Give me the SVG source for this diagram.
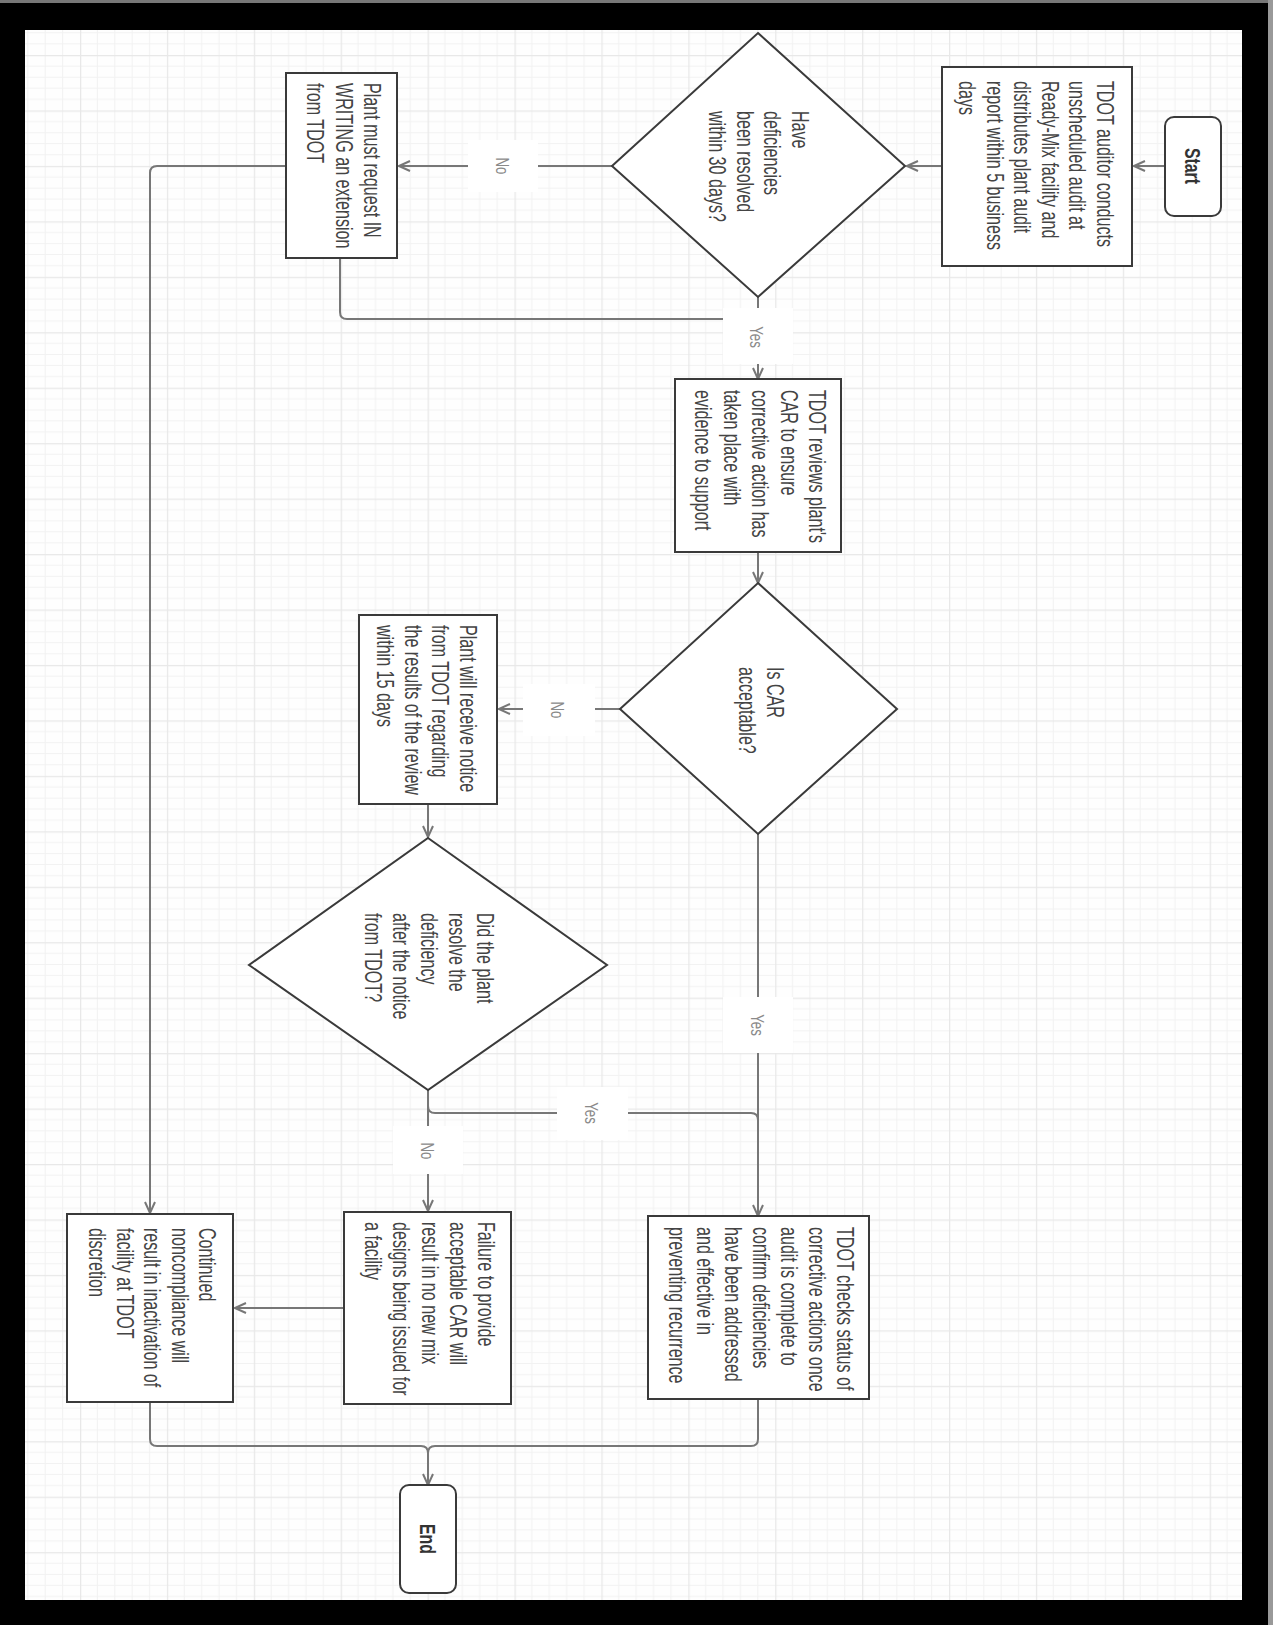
<svg xmlns="http://www.w3.org/2000/svg" width="1273" height="1625" viewBox="0 0 1273 1625">
<style>
.box{fill:#fff;stroke:#3a3a3a;stroke-width:2}
.t{font-family:"Liberation Sans",Arial,sans-serif;font-size:23px;fill:#444}
.b{font-family:"Liberation Sans",Arial,sans-serif;font-size:22px;font-weight:bold;fill:#333}
.lbl{font-family:"Liberation Sans",Arial,sans-serif;font-size:19px;fill:#8a8a8a}
.lb{fill:#fff}
.c{fill:none;stroke:#777;stroke-width:2}
</style>
<defs>
<pattern id="grid" patternUnits="userSpaceOnUse" x="80" y="55" width="86.9" height="55.45">
<rect width="86.9" height="55.45" fill="#fefefe"/>
<path d="M17.38,0V55.45M34.76,0V55.45M52.14,0V55.45M69.52,0V55.45M0,11.09H86.9M0,22.18H86.9M0,33.27H86.9M0,44.36H86.9" stroke="#f2f2f2" stroke-width="1" fill="none"/>
<path d="M0.5,0V55.45M0,0.5H86.9" stroke="#e8e8e8" stroke-width="1.5" fill="none"/>
</pattern>
<marker id="arr" markerUnits="userSpaceOnUse" markerWidth="14" markerHeight="12" refX="12" refY="6" orient="auto">
<path d="M1,1 L12,6 L1,11" fill="none" stroke="#777" stroke-width="2"/>
</marker>
</defs>
<rect x="0" y="0" width="1273" height="1625" fill="#000"/>
<rect x="0" y="0" width="1273" height="3" fill="#777"/>
<rect x="1268" y="0" width="5" height="1625" fill="#999"/>
<rect x="25" y="30" width="1217" height="1570" fill="url(#grid)"/>

<g id="connectors">
<path class="c" d="M1165,166H1134" marker-end="url(#arr)"/>
<path class="c" d="M942,166H907" marker-end="url(#arr)"/>
<path class="c" d="M612,166H399" marker-end="url(#arr)"/>
<path class="c" d="M758,297V379" marker-end="url(#arr)"/>
<path class="c" d="M340,258V312Q340,319 347,319H758"/>
<path class="c" d="M758,552V583" marker-end="url(#arr)"/>
<path class="c" d="M620,709H499" marker-end="url(#arr)"/>
<path class="c" d="M758,834V1216" marker-end="url(#arr)"/>
<path class="c" d="M428,804V837" marker-end="url(#arr)"/>
<path class="c" d="M428,1090V1106Q428,1113 435,1113H751Q758,1113 758,1120"/>
<path class="c" d="M428,1090V1211" marker-end="url(#arr)"/>
<path class="c" d="M344,1308H235" marker-end="url(#arr)"/>
<path class="c" d="M286,166H157Q150,166 150,173V1213" marker-end="url(#arr)"/>
<path class="c" d="M150,1402V1439Q150,1446 157,1446H421Q428,1446 428,1453V1485" marker-end="url(#arr)"/>
<path class="c" d="M758,1399V1439Q758,1446 751,1446H435Q428,1446 428,1453"/>
<g id="label-no1"><rect class="lb" x="468" y="140" width="70" height="52"/><text class="lbl" text-anchor="middle" transform="translate(496,166) rotate(90) scale(0.7,1)">No</text></g>
<g id="label-yes1"><rect class="lb" x="723" y="308" width="70" height="56"/><text class="lbl" text-anchor="middle" transform="translate(750,337) rotate(90) scale(0.7,1)">Yes</text></g>
<g id="label-no2"><rect class="lb" x="523" y="684" width="72" height="52"/><text class="lbl" text-anchor="middle" transform="translate(551,710) rotate(90) scale(0.7,1)">No</text></g>
<g id="label-yes2"><rect class="lb" x="723" y="997" width="70" height="56"/><text class="lbl" text-anchor="middle" transform="translate(751,1025) rotate(90) scale(0.7,1)">Yes</text></g>
<g id="label-yes3"><rect class="lb" x="557" y="1087" width="71" height="53"/><text class="lbl" text-anchor="middle" transform="translate(585,1113) rotate(90) scale(0.7,1)">Yes</text></g>
<g id="label-no3"><rect class="lb" x="393" y="1126" width="70" height="48"/><text class="lbl" text-anchor="middle" transform="translate(421,1151) rotate(90) scale(0.7,1)">No</text></g>
</g>

<g id="start">
<rect class="box" x="1165" y="117" width="56" height="99" rx="9" ry="9"/>
<text class="b" text-anchor="middle" transform="translate(1185,166) rotate(90) scale(0.72,1)">Start</text>
</g>

<g id="audit">
<rect class="box" x="942" y="67" width="190" height="199"/>
<text class="t" transform="translate(1097,81) rotate(90) scale(0.7,1)"><tspan x="0" y="0">TDOT auditor conducts</tspan><tspan x="0" y="27.6">unscheduled audit at</tspan><tspan x="0" y="55.2">Ready-Mix facility and</tspan><tspan x="0" y="82.8">distributes plant audit</tspan><tspan x="0" y="110.4">report within 5 business</tspan><tspan x="0" y="138">days</tspan></text>
</g>

<g id="decision-30days">
<polygon class="box" points="758,33 905,166 758,297 612,166"/>
<text class="t" transform="translate(792,111) rotate(90) scale(0.7,1)"><tspan x="0" y="0">Have</tspan><tspan x="0" y="27.7">deficiencies</tspan><tspan x="0" y="55.4">been resolved</tspan><tspan x="0" y="83.1">within 30 days?</tspan></text>
</g>

<g id="extension">
<rect class="box" x="286" y="73" width="111" height="185"/>
<text class="t" transform="translate(364,83) rotate(90) scale(0.7,1)"><tspan x="0" y="0">Plant must request IN</tspan><tspan x="0" y="28.3">WRITING an extension</tspan><tspan x="0" y="56.6">from TDOT</tspan></text>
</g>

<g id="review">
<rect class="box" x="675" y="379" width="166" height="173"/>
<text class="t" transform="translate(809,390) rotate(90) scale(0.7,1)"><tspan x="0" y="0">TDOT reviews plant's</tspan><tspan x="0" y="28.5">CAR to ensure</tspan><tspan x="0" y="57">corrective action has</tspan><tspan x="0" y="85.5">taken place with</tspan><tspan x="0" y="114">evidence to support</tspan></text>
</g>

<g id="decision-car">
<polygon class="box" points="758,583 897,709 758,834 620,709"/>
<text class="t" transform="translate(767,667) rotate(90) scale(0.7,1)"><tspan x="0" y="0">Is CAR</tspan><tspan x="0" y="28">acceptable?</tspan></text>
</g>

<g id="notice">
<rect class="box" x="359" y="615" width="138" height="189"/>
<text class="t" transform="translate(460,625) rotate(90) scale(0.7,1)"><tspan x="0" y="0">Plant will receive notice</tspan><tspan x="0" y="27.7">from TDOT regarding</tspan><tspan x="0" y="55.4">the results of the review</tspan><tspan x="0" y="83.1">within 15 days</tspan></text>
</g>

<g id="decision-resolve">
<polygon class="box" points="428,838 607,965 428,1090 249,965"/>
<text class="t" transform="translate(477,913) rotate(90) scale(0.7,1)"><tspan x="0" y="0">Did the plant</tspan><tspan x="0" y="28">resolve the</tspan><tspan x="0" y="56">deficiency</tspan><tspan x="0" y="84">after the notice</tspan><tspan x="0" y="112">from TDOT?</tspan></text>
</g>

<g id="check">
<rect class="box" x="648" y="1216" width="221" height="183"/>
<text class="t" transform="translate(837,1227) rotate(90) scale(0.7,1)"><tspan x="0" y="0">TDOT checks status of</tspan><tspan x="0" y="28">corrective actions once</tspan><tspan x="0" y="56">audit is complete to</tspan><tspan x="0" y="84">confirm deficiencies</tspan><tspan x="0" y="112">have been addressed</tspan><tspan x="0" y="140">and effective in</tspan><tspan x="0" y="168">preventing recurrence</tspan></text>
</g>

<g id="failure">
<rect class="box" x="344" y="1212" width="167" height="192"/>
<text class="t" transform="translate(478,1222) rotate(90) scale(0.7,1)"><tspan x="0" y="0">Failure to provide</tspan><tspan x="0" y="28.2">acceptable CAR will</tspan><tspan x="0" y="56.4">result in no new mix</tspan><tspan x="0" y="84.6">designs being issued for</tspan><tspan x="0" y="112.8">a facility</tspan></text>
</g>

<g id="inactivation">
<rect class="box" x="67" y="1214" width="166" height="188"/>
<text class="t" transform="translate(199,1228) rotate(90) scale(0.7,1)"><tspan x="0" y="0">Continued</tspan><tspan x="0" y="27.5">noncompliance will</tspan><tspan x="0" y="55">result in inactivation of</tspan><tspan x="0" y="82.5">facility at TDOT</tspan><tspan x="0" y="110">discretion</tspan></text>
</g>

<g id="end">
<rect class="box" x="400" y="1485" width="56" height="108" rx="9" ry="9"/>
<text class="b" text-anchor="middle" transform="translate(420,1539) rotate(90) scale(0.72,1)">End</text>
</g>
</svg>
